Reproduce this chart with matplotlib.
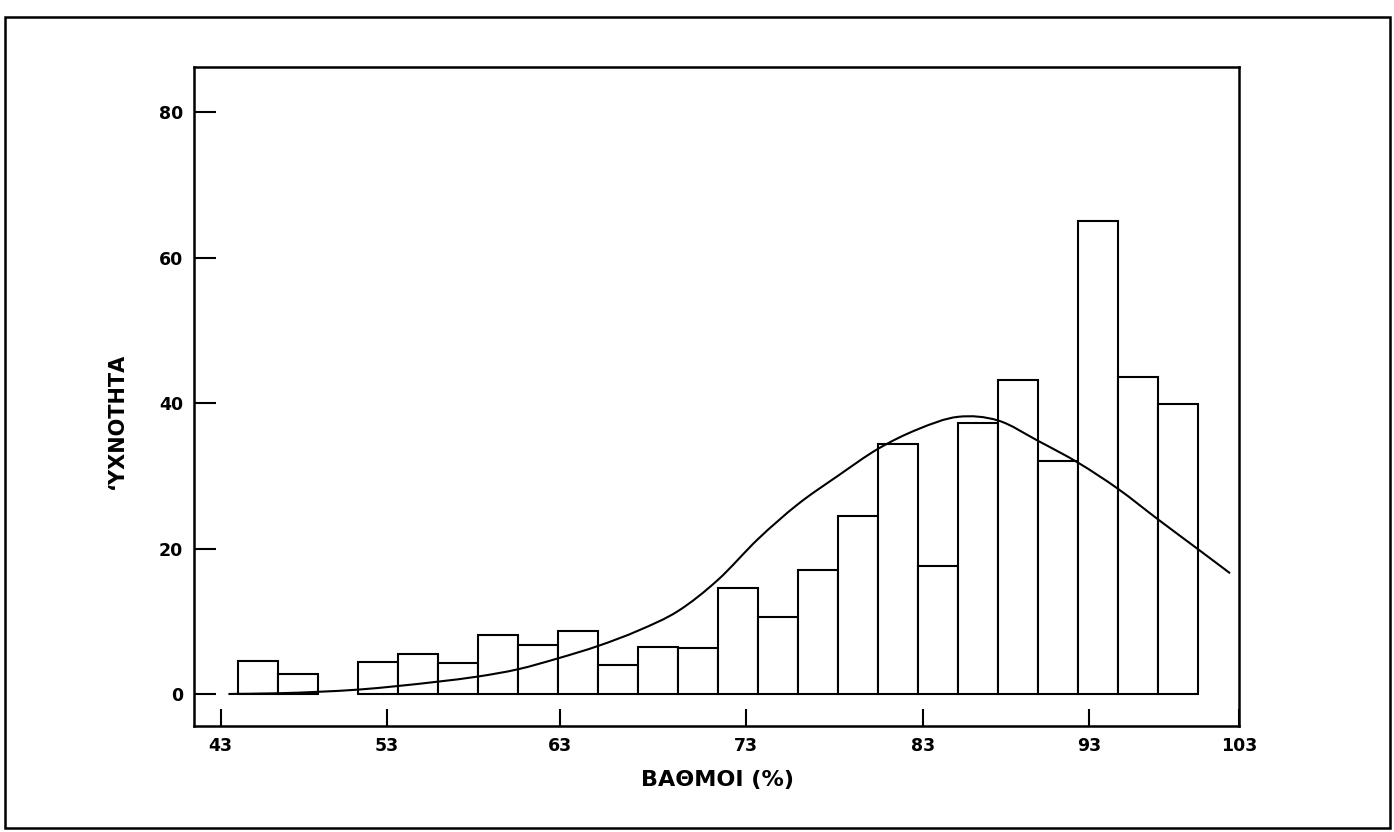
import numpy as np
import matplotlib
matplotlib.use("Agg")
import matplotlib.pyplot as plt
from matplotlib.patches import Rectangle, PathPatch
from matplotlib.path import Path

plt.rcParams['font.family'] = ['DejaVu Sans']

# ---- data ----
bin_start = 44.0
bin_width = 2.5
counts = [4.5, 2.75, 0, 4.4, 5.5, 4.2, 8.1, 6.8, 8.6, 4.0, 6.5, 6.3,
          14.6, 10.6, 17.1, 24.4, 34.3, 17.6, 37.3, 43.1, 32.0, 65.0, 43.6, 39.9]

curve_x = [43.4, 46.5, 49.0, 51.5, 54.0, 56.5, 59.0, 61.5, 64.0, 66.5, 69.0,
           71.5, 74.0, 76.5, 79.0, 81.5, 84.0, 86.5, 89.0, 91.5, 94.0,
           96.5, 99.0, 101.5, 104.0, 106.0]
curve_y = [0.0, 0.1, 0.3, 0.6, 1.1, 1.7, 2.4, 3.4, 4.9, 6.6, 8.7,
           11.4, 15.7, 21.3, 26.1, 30.0, 33.7, 36.4, 38.1, 37.6, 34.8,
           31.8, 28.2, 24.0, 19.9, 16.6]

xtick_labels = ['43', '53', '63', '73', '83', '93', '103']
ytick_values = [0, 20, 40, 60, 80]

x_label = 'ΒΑΘΜΟΙ (%)'
y_label = '‘ΥΧΝΟΤΗΤΑ'

# ---- layout ----
W, H = 1394, 832
fig = plt.figure(figsize=(W / 100, H / 100), dpi=100)
fig.patch.set_facecolor('white')

# outer frame of the page
fig.add_artist(Rectangle((5 / W, 1 - 828 / H), (1390 - 5) / W, (828 - 17) / H,
                         transform=fig.transFigure, fill=False,
                         edgecolor='black', linewidth=1.8))

ax_l, ax_r, ax_t, ax_b = 194, 1239, 67, 726
ax = fig.add_axes([ax_l / W, 1 - ax_b / H, (ax_r - ax_l) / W, (ax_b - ax_t) / H])

lefts = [bin_start + i * bin_width for i in range(len(counts))]
sel = [i for i, c in enumerate(counts) if c > 0]
ax.bar([lefts[i] for i in sel], [counts[i] for i in sel], width=bin_width,
       align='edge', facecolor='white', edgecolor='black', linewidth=1.5, zorder=2)

# smooth rendering of the read curve points (Catmull-Rom as cubic Bezier)
pts = np.column_stack([curve_x, curve_y])
verts = [tuple(pts[0])]
codes = [Path.MOVETO]
n = len(pts)
for i in range(n - 1):
    p0 = pts[max(i - 1, 0)]
    p1 = pts[i]
    p2 = pts[i + 1]
    p3 = pts[min(i + 2, n - 1)]
    c1 = p1 + (p2 - p0) / 6.0
    c2 = p2 - (p3 - p1) / 6.0
    verts += [tuple(c1), tuple(c2), tuple(p2)]
    codes += [Path.CURVE4] * 3
ax.add_patch(PathPatch(Path(verts, codes), facecolor='none',
                       edgecolor='black', linewidth=1.5, zorder=3))

ax.set_xlim(41.25, 106.56)
ax.set_ylim(-4.40, 86.19)

xtick_pos = [42.92, 53.29, 64.12, 75.73, 86.83, 97.19, 106.56]
ax.set_xticks(xtick_pos)
ax.set_xticklabels(xtick_labels)
ax.set_yticks(ytick_values)
ax.set_yticklabels([str(v) for v in ytick_values])

ax.tick_params(axis='x', direction='in', length=12, width=1.5, pad=8,
               labelsize=12.5, colors='black')
ax.tick_params(axis='y', direction='in', length=16, width=1.5, pad=8,
               labelsize=12.5, colors='black')
for lab in ax.get_xticklabels() + ax.get_yticklabels():
    lab.set_fontweight('bold')

for s in ax.spines.values():
    s.set_linewidth(1.8)
    s.set_color('black')

fig.text(717 / W, 1 - 780 / H, x_label, ha='center', va='center',
         fontsize=16, fontweight='bold')
fig.text(117 / W, 1 - 421 / H, y_label, ha='center', va='center',
         rotation=90, fontsize=15, fontweight='bold')

fig.savefig('out.png', dpi=100, facecolor='white')
